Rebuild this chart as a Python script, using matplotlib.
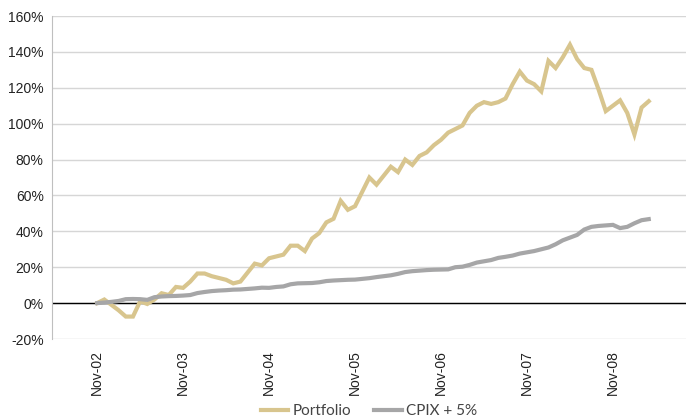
import matplotlib.pyplot as plt
import numpy as np

# monthly cumulative returns (%), Nov-02 .. Apr-09
portfolio = [0, 2, -1, -4, -7.5, -7.5, 1, -0.5, 2, 5.5, 4.5, 9, 8.5, 12, 16.5, 16.5,
             15, 14, 13, 11, 12, 17, 22, 21, 25, 26, 27, 32, 32, 29, 36, 39,
             45, 47, 57, 52, 54, 62, 70, 66, 71, 76, 73, 80, 77, 82, 84, 88,
             91, 95, 97, 99, 106, 110, 112, 111, 112, 114, 122, 129, 124, 122, 118, 135,
             131, 137, 144, 136, 131, 130, 119, 107, 110, 113, 106, 94, 109, 112.5]
cpix = [0, 0.3, 0.7, 1.2, 2.2, 2.3, 2.2, 1.8, 3.3, 3.7, 3.9, 4.0, 4.2, 4.5, 5.6, 6.2,
        6.7, 7.0, 7.2, 7.5, 7.6, 7.9, 8.2, 8.6, 8.5, 9.0, 9.3, 10.5, 11.0, 11.1, 11.2, 11.6,
        12.3, 12.6, 12.8, 13.0, 13.1, 13.5, 13.9, 14.5, 15.0, 15.5, 16.3, 17.3, 17.8, 18.1, 18.4, 18.6,
        18.7, 18.8, 20.0, 20.3, 21.3, 22.6, 23.3, 24.0, 25.2, 25.8, 26.5, 27.6, 28.3, 29.0, 30.0, 31.0,
        32.8, 35.0, 36.5, 38.0, 41.0, 42.5, 43.0, 43.3, 43.6, 41.8, 42.5, 44.5, 46.2, 46.8]
tick_labels = ['Nov-02', 'Nov-03', 'Nov-04', 'Nov-05', 'Nov-06', 'Nov-07', 'Nov-08']

plt.rcParams['font.family'] = ['Liberation Sans', 'DejaVu Sans']

W, H = 687, 419
fig = plt.figure(figsize=(W / 100, H / 100), dpi=100)
ax = fig.add_axes([52 / W, 1 - 339 / H, (686 - 52) / W, (339 - 16) / H])

months = np.arange(len(portfolio))
ax.plot(months, portfolio, color='#D8C58E', lw=3, label='Portfolio', solid_joinstyle='miter')
ax.plot(months, cpix, color='#A6A6A7', lw=3, label='CPIX + 5%', solid_joinstyle='miter')

ax.set_ylim(-20, 160)
ax.set_xlim(-6.3, 82.2)
ax.set_yticks(np.arange(-20, 161, 20))
ax.set_yticklabels([f'{v}%' for v in range(-20, 161, 20)], fontsize=10, color='#222222')
ax.set_xticks(np.arange(0, 73, 12))
ax.set_xticklabels(tick_labels, rotation=90, fontsize=10, color='#222222')
ax.tick_params(axis='both', length=0)
ax.tick_params(axis='x', pad=8)
ax.tick_params(axis='y', pad=6)

ax.grid(axis='y', color='#D6D6D6', lw=1)
ax.set_axisbelow(True)
ax.axhline(0, color='black', lw=1, zorder=1.5)
for s in ['top', 'right', 'bottom']:
    ax.spines[s].set_visible(False)
ax.spines['left'].set_color('#BFBFBF')

# legend sits at the very bottom edge, as in the source
fig.legend(loc='center', bbox_to_anchor=(369 / W, 1 - 411 / H), ncol=2, frameon=False,
           handlelength=1.8, columnspacing=1.5, handletextpad=0.3,
           labelcolor='#444444', prop={'family': 'Lato', 'size': 11})

fig.savefig('out.png', dpi=100)
